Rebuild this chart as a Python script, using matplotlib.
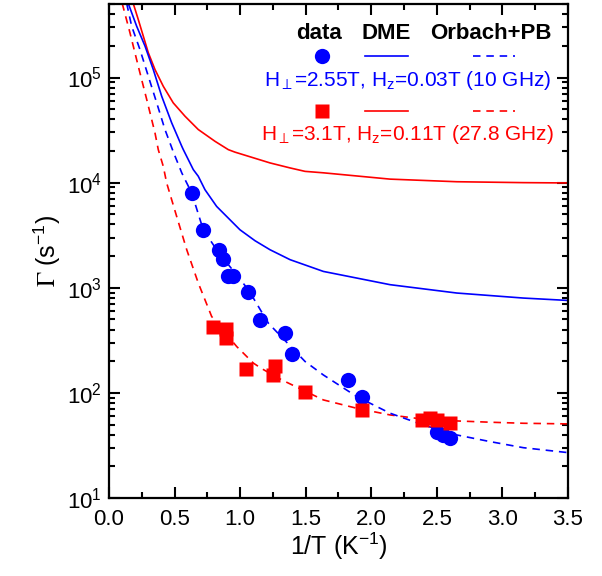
import numpy as np
import matplotlib
matplotlib.use("Agg")
import matplotlib.pyplot as plt

plt.rcParams['font.family'] = ['Liberation Sans', 'DejaVu Sans']
plt.rcParams['mathtext.fontset'] = 'stix'
plt.rcParams['mathtext.default'] = 'regular'

# --- measured data (1/T in K^-1, Gamma in s^-1) ---
blue_x = [0.631, 0.719, 0.839, 0.872, 0.910, 0.948, 1.058, 1.152, 1.340, 1.394,
          1.825, 1.928, 2.500, 2.550, 2.602]
blue_y = [7980, 3565, 2300, 1875, 1300, 1282, 916, 495, 371, 234,
          133, 92, 42.8, 39.8, 37]

red_x = [0.791, 0.892, 0.890, 1.047, 1.268, 1.253, 1.497, 1.928, 2.385, 2.449, 2.500, 2.601]
red_y = [419, 407, 332, 169, 181, 148, 101, 68.8, 55.3, 57.4, 55.3, 51.4]

# --- DME model curves ---
dme_blue_x = [0.147, 0.211, 0.275, 0.338, 0.402, 0.478, 0.555, 0.567, 0.643, 0.681,
              0.732, 0.821, 0.999, 1.114, 1.228, 1.381, 1.635, 2.143, 2.652, 3.160, 3.503]
dme_blue_y = [5.07e5, 3.08e5, 1.99e5, 1.19e5, 6.64e4, 3.71e4, 2.22e4, 2.06e4, 1.33e4, 1.15e4,
              8.57e3, 5.94e3, 3.56e3, 2.80e3, 2.30e3, 1.85e3, 1.43e3, 1.07e3, 891, 798, 757]

dme_red_x = [0.185, 0.2235, 0.262, 0.300, 0.351, 0.414, 0.490, 0.580, 0.681, 0.809,
             0.910, 0.961, 1.228, 1.381, 1.495, 1.635, 2.143, 2.652, 3.160, 3.503]
dme_red_y = [5.07e5, 3.56e5, 2.47e5, 1.72e5, 1.19e5, 8.26e4, 5.74e4, 4.28e4, 3.20e4, 2.47e4,
             2.06e4, 1.95e4, 1.54e4, 1.38e4, 1.28e4, 1.24e4, 1.08e4, 1.02e4, 1.0e4, 9.93e3]

# --- Orbach + PB fits ---
orb_blue_x = [0.135, 0.173, 0.236, 0.300, 0.364, 0.427, 0.490, 0.555, 0.580, 0.631,
              0.719, 0.821, 0.860, 1.063, 1.215, 1.495, 1.635, 1.889, 2.143, 2.397,
              2.652, 2.906, 3.160, 3.503]
orb_blue_y = [5.07e5, 3.08e5, 1.85e5, 1.03e5, 5.74e4, 3.20e4, 1.97e4, 1.24e4, 1.07e4, 7.98e3,
              3.56e3, 2.30e3, 1.99e3, 957, 461, 199, 148, 92.3, 64.1, 49.5,
              39.8, 34.4, 30.1, 27.0]

orb_red_x = [0.101, 0.160, 0.2235, 0.288, 0.351, 0.376, 0.414, 0.440, 0.478, 0.516,
             0.593, 0.681, 0.783, 0.974, 1.101, 1.165, 1.317, 1.635, 1.889, 2.143,
             2.397, 2.652, 2.906, 3.160, 3.503]
orb_red_y = [5.07e5, 2.67e5, 1.28e5, 6.17e4, 2.97e4, 2.06e4, 1.43e4, 9.93e3, 6.89e3, 4.78e3,
             2.30e3, 1.11e3, 533, 276, 192, 170, 133, 85.7, 71.4, 61.7,
             56.2, 54.1, 52.6, 51.4, 50.7]

BLUE = '#0000ff'
RED = '#ff0000'
dash = (0, (4.5, 3.5))

fig = plt.figure(figsize=(6.02, 5.76), dpi=100)
ax = fig.add_axes([0.181, 0.1354, 0.7625, 0.8576])

ax.plot(dme_red_x, dme_red_y, '-', color=RED, lw=1.2)
ax.plot(dme_blue_x, dme_blue_y, '-', color=BLUE, lw=1.2)
ax.plot(orb_red_x, orb_red_y, color=RED, lw=1.2, ls=dash)
ax.plot(orb_blue_x, orb_blue_y, color=BLUE, lw=1.2, ls=dash)
ax.plot(blue_x, blue_y, 'o', color=BLUE, ms=11, mec='none')
ax.plot(red_x, red_y, 's', color=RED, ms=10.5, mec='none')

ax.set_yscale('log')
ax.set_xlim(0, 3.5)
ax.set_ylim(10, 5e5)
ax.set_xticks(np.arange(0, 3.51, 0.5))
ax.set_xticks(np.arange(0, 3.51, 0.25), minor=True)
ax.set_xticklabels(['%.1f' % v for v in np.arange(0, 3.51, 0.5)])
ax.tick_params(which='both', direction='in', top=True, right=True, width=1.5, labelsize=16)
ax.tick_params(which='major', length=8)
ax.tick_params(which='minor', length=4.5)
ax.tick_params(axis='x', pad=8)
ax.tick_params(axis='y', pad=5)
for s in ax.spines.values():
    s.set_linewidth(1.6)

ax.set_xlabel('1/T (K$^{-1}$)', fontsize=18, labelpad=0)
ax.set_ylabel(r'$\mathrm{\Gamma}$ (s$^{-1}$)', fontsize=18, labelpad=3)

# --- legend drawn by hand ---
tr = ax.transAxes
hy = 0.941
ax.text(0.4575, hy, 'data', transform=tr, ha='center', va='center', fontsize=16, fontweight='bold')
ax.text(0.6035, hy, 'DME', transform=tr, ha='center', va='center', fontsize=16, fontweight='bold')
ax.text(0.832, hy, 'Orbach+PB', transform=tr, ha='center', va='center', fontsize=16, fontweight='bold')

for row_y, txt_y, col, mk, ms, label in [
        (0.895, 0.846, BLUE, 'o', 11, r'H$_{\perp}$=2.55T, H$_{z}$=0.03T (10 GHz)'),
        (0.783, 0.735, RED, 's', 10.5, r'H$_{\perp}$=3.1T, H$_{z}$=0.11T (27.8 GHz)')]:
    ax.plot([0.464], [row_y], mk, color=col, ms=ms, mec='none', transform=tr, clip_on=False)
    ax.plot([0.558, 0.651], [row_y, row_y], '-', color=col, lw=1.2, transform=tr)
    ax.plot([0.793, 0.885], [row_y, row_y], color=col, lw=1.2, ls=dash, transform=tr)
    ax.text(0.65, txt_y, label, transform=tr, ha='center', va='center', fontsize=15, color=col)

fig.savefig('out.png', dpi=100)
